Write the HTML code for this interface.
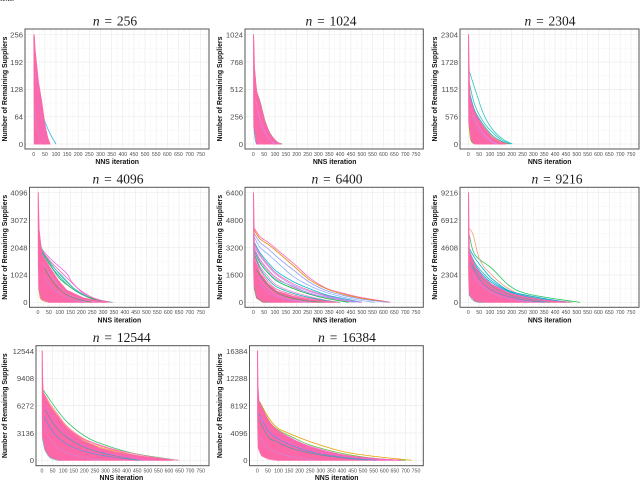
<!DOCTYPE html>
<html lang="en">
<head>
<meta charset="utf-8">
<title>Remaining suppliers per NNS iteration</title>
<style>
html,body{margin:0;padding:0;background:#fff;}
body{width:640px;height:481px;overflow:hidden;}
svg{display:block;}
text{font-family:"Liberation Sans",sans-serif;}
.title{font-family:"Liberation Serif",serif;font-size:13.5px;word-spacing:1.5px;fill:#1a1a1a;}
.ytick{font-size:7.7px;fill:#4d4d4d;}
.xtick{font-size:5.2px;fill:#4d4d4d;}
.axis-title{font-size:6.9px;font-weight:bold;fill:#111;}
</style>
</head>
<body>
<svg id="chart" width="640" height="481" viewBox="0 0 640 481" xmlns="http://www.w3.org/2000/svg">
<text x="0" y="1" style="font-family:'Liberation Serif',serif;font-size:8px;fill:#111">text.</text>
</svg>
<script>
const panelSizes = [256, 1024, 2304, 4096, 6400, 9216, 12544, 16384];
const iterTicks = [0, 50, 100, 150, 200, 250, 300, 350, 400, 450, 500, 550, 600, 650, 700, 750];
const tickFractions = [0, 1, 2, 3, 4];

const upper256 = [[1,256],[3,250],[6,220],[21,145],[36,98],[50,45],[62,16],[73,0]];
const lower256 = [[1,256],[2,120],[3,0]];
const upper1024 = [[1,1024],[3,900],[5,710],[15,490],[30,395],[54,205],[77,92],[108,16],[128,0]];
const lower1024 = [[1,1024],[2,400],[3,160],[15,0]];
const upper2304 = [[1,2304],[3,1700],[5,1300],[8,960],[30,640],[69,350],[108,135],[146,32],[172,0]];
const lower2304 = [[1,2304],[2,800],[3,430],[15,50],[30,0]];
const upper4096 = [[1,4096],[3,3300],[5,2700],[17,1800],[55,1300],[94,800],[132,450],[209,160],[286,28],[320,0]];
const lower4096 = [[1,4096],[2,1500],[4,500],[15,120],[50,0]];
const upper6400 = [[1,6400],[3,4700],[5,2500],[31,1700],[69,1050],[108,650],[185,340],[262,140],[338,42],[385,0]];
const lower6400 = [[1,6400],[2,2000],[5,800],[15,250],[45,0]];
const upper9216 = [[1,9216],[3,6000],[5,4300],[31,3000],[69,2100],[108,1500],[185,800],[262,440],[338,205],[415,60],[462,0]];
const lower9216 = [[1,9216],[2,2500],[5,600],[31,80],[50,0]];
const upper12544 = [[1,12544],[3,9000],[6,7500],[38,6100],[77,4800],[117,3600],[195,2200],[274,1350],[353,880],[431,540],[510,250],[589,45],[610,0]];
const lower12544 = [[1,12544],[2,5000],[3,2524],[14,1185],[38,306],[77,0]];
const upper16384 = [[1,16384],[3,11000],[8,8600],[52,5900],[91,4500],[170,3000],[249,1950],[327,1250],[406,760],[485,430],[564,210],[642,55],[675,0]];
const lower16384 = [[1,16384],[2,6000],[5,1800],[20,700],[52,200],[92,0]];

const traces256 = [
  [[5,190],[20,120],[43,64],[70,28],[100,0]]
];
const traces1024 = [
  [[5,720],[15,500],[30,405],[54,215],[77,100],[108,22],[133,0]]
];
const traces2304 = [
  [[5,1525],[30,1173],[69,646],[108,330],[154,120],[203,0]],
  [[5,1280],[30,822],[69,470],[108,260],[154,85],[197,0]],
  [[5,1100],[30,700],[69,410],[108,195],[154,55],[190,0]],
  [[5,1000],[30,665],[69,375],[108,165],[150,45],[182,0]]
];
const traces4096 = [
  [[17,2000],[55,1644],[132,1083],[155,772],[209,336],[286,87],[345,0]],
  [[5,2700],[17,2017],[55,1500],[132,760],[209,280],[286,80],[338,0]],
  [[17,1950],[55,1450],[110,1000],[170,500],[240,180],[320,0]],
  [[17,1900],[55,1400],[100,950],[150,560],[230,190],[310,0]],
  [[17,1860],[60,1340],[100,880],[140,620],[200,300],[295,0]],
  [[17,1950],[55,1550],[100,1180],[140,860],[190,480],[260,140],[330,0]]
];
const traces6400 = [
  [[5,4320],[31,3832],[69,3500],[108,3090],[185,2276],[262,1400],[338,817],[415,525],[492,292],[569,136],[631,0]],
  [[5,4200],[31,3700],[69,3380],[108,2980],[185,2130],[262,1290],[338,780],[415,470],[492,250],[569,100],[620,0]],
  [[5,4000],[31,3500],[69,3120],[108,2665],[185,1880],[262,1150],[338,680],[415,400],[492,200],[569,70],[625,0]],
  [[5,3800],[31,3200],[69,2800],[108,2350],[185,1500],[262,950],[338,570],[415,300],[492,120],[560,0]],
  [[5,3500],[31,2900],[69,2300],[108,1800],[185,1200],[262,780],[338,430],[415,220],[500,0]],
  [[5,3400],[31,2800],[69,2180],[108,1680],[185,1080],[262,680],[338,380],[415,170],[500,0]],
  [[5,3300],[31,2700],[69,2100],[108,1600],[185,1000],[262,620],[338,350],[415,150],[490,0]],
  [[5,3000],[31,2300],[69,1700],[108,1250],[185,800],[262,460],[338,220],[440,0]],
  [[5,2900],[31,2100],[69,1500],[108,1000],[185,600],[262,330],[338,120],[385,0]],
  [[5,3150],[31,2500],[69,1900],[108,1420],[185,880],[262,530],[338,280],[460,0]],
  [[5,2800],[31,2000],[69,1350],[108,900],[185,520],[262,270],[338,100],[400,0]],
  [[5,3100],[31,2400],[69,1800],[108,1330],[185,930],[262,500],[338,300],[470,0]],
  [[5,2700],[31,1900],[69,1200],[108,760],[185,430],[262,210],[338,70],[395,0]]
];
const traces9216 = [
  [[5,5630],[31,3980],[108,2860],[185,1460],[262,760],[415,250],[515,0]],
  [[5,6190],[23,5630],[54,3530],[108,2300],[185,1150],[262,560],[415,130],[480,0]],
  [[5,4500],[31,3700],[69,2800],[108,2000],[185,1000],[262,620],[415,120],[470,0]],
  [[5,4300],[31,3300],[69,2450],[108,1800],[185,950],[262,480],[380,120],[450,0]],
  [[5,4200],[31,3150],[69,2250],[108,1650],[185,900],[262,510],[350,220],[440,0]]
];
const traces12544 = [
  [[6,8070],[38,6920],[77,5580],[117,4436],[195,2906],[274,1950],[431,803],[644,0]],
  [[6,7800],[38,6500],[77,5200],[117,3950],[195,2524],[274,1760],[353,1185],[510,420],[644,0]],
  [[6,7600],[38,6300],[77,5000],[117,3800],[195,2350],[274,1500],[431,600],[590,0]],
  [[6,7700],[38,6200],[77,4950],[117,3750],[195,2450],[274,1650],[431,640],[620,0]]
];
const traces16384 = [
  [[13,8700],[52,6450],[91,4950],[130,4300],[249,2800],[406,1300],[564,550],[729,0]],
  [[8,8935],[52,6100],[91,4700],[170,3400],[249,2300],[406,1000],[564,260],[700,0]],
  [[8,8800],[52,6000],[91,4600],[170,3150],[249,2100],[406,820],[564,240],[680,0]]
];

const inner256 = [
  [[8,170],[20,100],[40,45],[52,0]],
  [[3,90],[12,50],[30,0]]
];
const inner1024 = [
  [[3,140],[8,40],[15,0]],
  [[20,300],[45,130],[75,40],[105,0]],
  [[10,420],[35,210],[65,70],[95,0]]
];
const inner2304 = [
  [[3,380],[10,90],[25,0]],
  [[12,760],[45,400],[85,150],[130,0]],
  [[15,620],[50,280],[100,60],[135,0]]
];
const inner4096 = [
  [[4,460],[12,130],[40,0]],
  [[30,1300],[65,800],[110,420],[160,180],[245,0]],
  [[20,1500],[55,1050],[95,620],[140,300],[210,90],[280,0]],
  [[25,1000],[60,600],[110,270],[170,80],[230,0]]
];
const inner6400 = [
  [[5,900],[15,300],[40,60],[70,0]],
  [[20,1500],[60,900],[110,420],[180,160],[270,0]],
  [[15,1900],[50,1250],[100,640],[160,300],[250,80],[320,0]],
  [[30,1100],[70,560],[130,240],[200,60],[260,0]]
];
const inner9216 = [
  [[5,800],[15,250],[40,60],[70,0]],
  [[15,3100],[50,2000],[100,1100],[170,560],[260,180],[350,0]],
  [[20,2300],[60,1400],[120,700],[200,260],[300,0]],
  [[10,3400],[40,2500],[85,1700],[140,1000],[230,420],[380,0]]
];
const inner12544 = [
  [[3,2524],[14,1185],[38,306],[77,0]],
  [[10,5000],[60,3000],[130,1700],[220,900],[340,350],[470,0]],
  [[10,6500],[50,4700],[100,3300],[170,2000],[260,1100],[400,380],[520,0]],
  [[8,4000],[40,2300],[90,1200],[170,480],[280,0]],
  [[15,5800],[60,4000],[120,2600],[210,1400],[320,650],[450,0]]
];
const inner16384 = [
  [[5,1800],[20,700],[52,200],[92,0]],
  [[8,7000],[52,4400],[100,3200],[180,2000],[290,1000],[420,420],[560,0]],
  [[8,6000],[52,3500],[91,2800],[170,1700],[280,900],[406,350],[520,0]],
  [[15,6600],[60,4300],[120,3000],[220,1900],[330,1000],[470,350],[640,0]],
  [[8,3800],[40,2100],[90,1200],[170,500],[280,0]]
];

const hues256 = ["#35b8ea"];
const hues1024 = ["#39b54a"];
const hues2304 = ["#2ec4b6", "#2ec4b6", "#1e9ee8", "#f08a3c"];
const hues4096 = ["#f066f0", "#2ecc71", "#5ab4f5", "#00b8c4", "#39b54a", "#fc67a8"];
const hues6400 = ["#ff64b0", "#e08b00", "#8f9cf5", "#8fb0ff", "#00bcd8", "#fc67a8", "#b98cf5", "#00ba38", "#f28ae8", "#fc67a8", "#00bfa5", "#8fa8ff", "#fc67a8"];
const hues9216 = ["#22c55e", "#f8a07a", "#00a9e0", "#1fb7a8", "#00b0f6"];
const hues12544 = ["#2fc463", "#ff7fa5", "#f59a23", "#fc67a8"];
const hues16384 = ["#e69f00", "#5bc236", "#f564e3"];

const innerHues256 = ["#c77cff", "#b794f4"];
const innerHues1024 = ["#10a9c9", "#c77cff", "#e58cf0"];
const innerHues2304 = ["#7cae00", "#e58cf0", "#b794f4"];
const innerHues4096 = ["#b8a000", "#00ba38", "#e58cf0", "#b794f4"];
const innerHues6400 = ["#39b54a", "#e58cf0", "#00ba38", "#b794f4"];
const innerHues9216 = ["#2cb9a0", "#00a9e0", "#b794f4", "#1fb7a8"];
const innerHues12544 = ["#2fd0c0", "#00a9ff", "#e76bf3", "#b794f4", "#00b0a0"];
const innerHues16384 = ["#ff8ab8", "#00a9ff", "#00b0a0", "#e76bf3", "#b794f4"];

const layouts = [
  {left:25, right:209, top:29, bottom:149, x0:33.7, x750:200.7, yTop:34.7, y0:144, titleX:115, titleY:25.5, xTickY:156, xTitleY:164, yTitleX:7, upper:upper256, lower:lower256, traces:traces256, hues:hues256, inner:inner256, innerHues:innerHues256},
  {left:245, right:423.3, top:29, bottom:149, x0:253.3, x750:416, yTop:34.7, y0:144, titleX:331, titleY:25.5, xTickY:156, xTitleY:164, yTitleX:222, upper:upper1024, lower:lower1024, traces:traces1024, hues:hues1024, inner:inner1024, innerHues:innerHues1024},
  {left:460, right:639, top:29, bottom:149, x0:468.3, x750:631, yTop:34.7, y0:144, titleX:550, titleY:25.5, xTickY:156, xTitleY:164, yTitleX:437, upper:upper2304, lower:lower2304, traces:traces2304, hues:hues2304, inner:inner2304, innerHues:innerHues2304},
  {left:29.5, right:209, top:187.3, bottom:307.3, x0:38, x750:200.7, yTop:192.7, y0:302.3, titleX:118, titleY:183.5, xTickY:314, xTitleY:322.5, yTitleX:7, upper:upper4096, lower:lower4096, traces:traces4096, hues:hues4096, inner:inner4096, innerHues:innerHues4096},
  {left:245, right:423.3, top:187.3, bottom:307.3, x0:253.3, x750:416, yTop:192.7, y0:302.3, titleX:337, titleY:183.5, xTickY:314, xTitleY:322.5, yTitleX:222, upper:upper6400, lower:lower6400, traces:traces6400, hues:hues6400, inner:inner6400, innerHues:innerHues6400},
  {left:460, right:639, top:187.3, bottom:307.3, x0:468.3, x750:631, yTop:192.7, y0:302.3, titleX:557, titleY:183.5, xTickY:314, xTitleY:322.5, yTitleX:437, upper:upper9216, lower:lower9216, traces:traces9216, hues:hues9216, inner:inner9216, innerHues:innerHues9216},
  {left:36, right:209, top:345.7, bottom:465.7, x0:42, x750:200.7, yTop:351, y0:460.3, titleX:121.7, titleY:342, xTickY:472.7, xTitleY:480, yTitleX:7, upper:upper12544, lower:lower12544, traces:traces12544, hues:hues12544, inner:inner12544, innerHues:innerHues12544},
  {left:249.5, right:423.3, top:345.7, bottom:465.7, x0:257.3, x750:416, yTop:351, y0:460.3, titleX:347, titleY:342, xTickY:472.7, xTitleY:480, yTitleX:222, upper:upper16384, lower:lower16384, traces:traces16384, hues:hues16384, inner:inner16384, innerHues:innerHues16384}
];

const SVG_NS = "http://www.w3.org/2000/svg";
const chart = document.getElementById("chart");

function make(tag, attrs, parent) {
  const node = document.createElementNS(SVG_NS, tag);
  for (const key in attrs) node.setAttribute(key, attrs[key]);
  parent.appendChild(node);
  return node;
}

function smoothPath(pts) {
  let d = "M" + pts[0][0].toFixed(2) + " " + pts[0][1].toFixed(2);
  for (let i = 0; i < pts.length - 1; i++) {
    const a = pts[Math.max(i - 1, 0)], b = pts[i], c = pts[i + 1], e = pts[Math.min(i + 2, pts.length - 1)];
    const c1x = b[0] + (c[0] - a[0]) / 6, c1y = b[1] + (c[1] - a[1]) / 6;
    const c2x = c[0] - (e[0] - b[0]) / 6, c2y = c[1] - (e[1] - b[1]) / 6;
    d += "C" + c1x.toFixed(2) + " " + c1y.toFixed(2) + " " + c2x.toFixed(2) + " " + c2y.toFixed(2) + " " + c[0].toFixed(2) + " " + c[1].toFixed(2);
  }
  return d;
}

layouts.forEach(function (p, i) {
  const n = panelSizes[i];
  const xAxis = function (iter) { return p.x0 + iter * (p.x750 - p.x0) / 750; };
  const yAxis = function (value) { return p.y0 - value * (p.y0 - p.yTop) / n; };
  const toPoints = function (pairs) {
    return pairs.map(function (d) { return xAxis(d[0]).toFixed(2) + "," + yAxis(d[1]).toFixed(2); }).join(" ");
  };
  const toPixels = function (pairs) {
    return pairs.map(function (d) { return [xAxis(d[0]), yAxis(d[1])]; });
  };

  const group = make("g", {}, chart);
  
  

  const gridGroup = make("g", {}, group);
  
  
  iterTicks.forEach(function (t) {
    make("line", {x1:xAxis(t + 25), x2:xAxis(t + 25), y1:p.top, y2:p.bottom, stroke:"#f6f6f6", "stroke-width":0.5}, gridGroup);
    make("line", {x1:xAxis(t), x2:xAxis(t), y1:p.top, y2:p.bottom, stroke:"#ececec", "stroke-width":0.7}, gridGroup);
  });
  tickFractions.forEach(function (k) {
    const v = n * k / 4;
    if (k < 4) make("line", {x1:p.left, x2:p.right, y1:yAxis(v + n / 8), y2:yAxis(v + n / 8), stroke:"#f6f6f6", "stroke-width":0.5}, gridGroup);
    make("line", {x1:p.left, x2:p.right, y1:yAxis(v), y2:yAxis(v), stroke:"#ececec", "stroke-width":0.7}, gridGroup);
  });

  p.traces.forEach(function (trace, t) {
    const line = make("path", {d:smoothPath(toPixels(trace)), fill:"none", stroke:p.hues[t], "stroke-width":0.8, "stroke-linejoin":"round"}, group);
    
    
  });

  const mass = make("polygon", {points:toPoints(p.upper) + " " + toPoints(p.lower.slice().reverse()), fill:"#fc67a8", stroke:"#fc67a8", "stroke-width":1, "stroke-linejoin":"round"}, group);
  
  

  p.inner.forEach(function (trace, t) {
    const line = make("path", {d:smoothPath(toPixels(trace)), fill:"none", stroke:p.innerHues[t], "stroke-width":0.6, "stroke-opacity":0.75}, group);
    
    
  });

  const frame = make("rect", {x:p.left, y:p.top, width:p.right - p.left, height:p.bottom - p.top, fill:"none", stroke:"#555", "stroke-width":1}, group);
  
  

  const title = make("text", {x:p.titleX, y:p.titleY, "text-anchor":"middle", class:"title"}, group);
  
  
  const italic = make("tspan", {"font-style":"italic"}, title);
  italic.textContent = "n";
  const rest = make("tspan", {}, title);
  rest.textContent = " = " + n;

  iterTicks.forEach(function (t) {
    const label = make("text", {x:xAxis(t), y:p.xTickY, "text-anchor":"middle", class:"xtick"}, group);
    
    
    label.textContent = t;
  });
  tickFractions.forEach(function (k) {
    const v = n * k / 4;
    const label = make("text", {x:p.left - 2, y:yAxis(v) + 2.8, "text-anchor":"end", class:"ytick"}, group);
    
    
    label.textContent = v;
  });

  const xTitle = make("text", {x:(p.x0 + p.x750) / 2, y:p.xTitleY, "text-anchor":"middle", class:"axis-title"}, group);
  
  
  xTitle.textContent = "NNS iteration";

  const midY = (p.top + p.bottom) / 2;
  const yTitle = make("text", {x:p.yTitleX, y:midY, "text-anchor":"middle", class:"axis-title", transform:"rotate(-90 " + p.yTitleX + " " + midY + ")"}, group);
  
  
  yTitle.textContent = "Number of Remaining Suppliers";
});
</script>
</body>
</html>
